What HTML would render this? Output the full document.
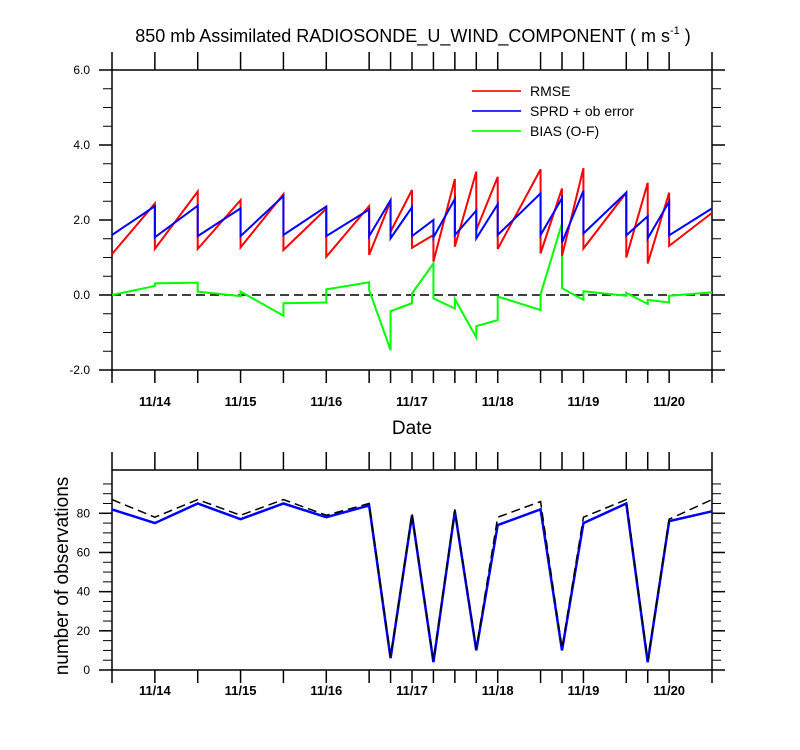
<!DOCTYPE html>
<html><head><meta charset="utf-8"><style>
body{margin:0;background:#fff;}
svg{display:block;font-family:"Liberation Sans",Arial,sans-serif;}
</style></head><body>
<svg id="chart" width="800" height="750" viewBox="0 0 800 750" xmlns="http://www.w3.org/2000/svg">
<rect width="800" height="750" fill="#fff"/>
<text x="413" y="42" font-size="18" text-anchor="middle">850 mb Assimilated RADIOSONDE_U_WIND_COMPONENT ( m s<tspan font-size="11" dy="-8">-1</tspan><tspan dy="8"> )</tspan></text>
<g id="gtop"></g>
<g id="gbot"></g>
<g>
<line x1="472" y1="91" x2="521" y2="91" stroke="#f33" stroke-width="2"/>
<text x="530" y="96" font-size="14">RMSE</text>
<line x1="472" y1="111" x2="521" y2="111" stroke="#33f" stroke-width="2"/>
<text x="530" y="116" font-size="14">SPRD + ob error</text>
<line x1="472" y1="131" x2="521" y2="131" stroke="#3f3" stroke-width="2"/>
<text x="530" y="136" font-size="14">BIAS (O-F)</text>
</g>
<text x="412" y="434" font-size="19" text-anchor="middle">Date</text>
<text transform="translate(68,576) rotate(-90)" font-size="19" text-anchor="middle">number of observations</text>
</svg>
<script>
const nodes=[0,0.5,1,1.5,2,2.5,3,3.25,3.5,3.75,4,4.25,4.5,5,5.25,5.5,6,6.25,6.5,7];
const rmseStart=[1.09,1.23,1.23,1.27,1.2,1.02,1.07,1.69,1.26,0.89,1.29,1.73,1.23,1.11,1.04,1.24,1.0,0.84,1.31];
const rmseEnd=[2.44,2.76,2.53,2.69,2.3,2.37,2.5,2.8,1.6,3.09,3.29,3.15,3.35,2.84,3.38,2.73,2.99,2.73,2.19];
const sprdStart=[1.6,1.54,1.57,1.57,1.6,1.57,1.57,1.51,1.57,1.54,1.6,1.51,1.6,1.6,1.4,1.64,1.59,1.51,1.59];
const sprdEnd=[2.37,2.38,2.31,2.64,2.36,2.28,2.53,2.34,2.0,2.56,2.25,2.42,2.71,2.58,2.78,2.73,2.1,2.49,2.31];
const biasStart=[0,0.31,0.09,0.09,-0.22,0.15,0.13,-0.43,0.04,-0.09,-0.11,-0.83,-0.04,0.02,0.18,0.1,0.06,-0.13,-0.02];
const biasEnd=[0.24,0.33,-0.03,-0.55,-0.2,0.34,-1.47,-0.22,0.84,-0.36,-1.13,-0.67,-0.4,1.91,-0.13,-0.02,-0.24,-0.2,0.07];
const obsUsed=[82,75,85,77,85,78,84,6,79,4,81,10,74,82,10,75,85,4,76,81];
const obsTotal=[87,78,87,79,87,79,85,7,80,5,82,11,78,86,11,78,87,5,77,87];
const dateLabels=["11/14","11/15","11/16","11/17","11/18","11/19","11/20"];
const dateTimes=[0.5,1.5,2.5,3.5,4.5,5.5,6.5];
const topTicks=[-2,0,2,4,6];
const botTicks=[0,20,40,60,80];

const NS="http://www.w3.org/2000/svg";
const L=112,R=712;
const xs=t=>L+t*(R-L)/7;
const yT=v=>295-v*37.5;
const yB=v=>670-v*(670-513.3)/80;
function mk(tag,attrs,parent){const e=document.createElementNS(NS,tag);for(const k in attrs)e.setAttribute(k,attrs[k]);parent.appendChild(e);return e;}
const gTop=document.getElementById('gtop'),gBot=document.getElementById('gbot');

function frame(g,y0,y1,ticks,yf,minorStep,lo,hi,fmt,lblY){
  const r=mk('rect',{x:L,y:y0,width:R-L,height:y1-y0,fill:'none',stroke:'#000','stroke-width':1.5},g);
  
  
  nodes.forEach(t=>{
    mk('line',{x1:xs(t),x2:xs(t),y1:y0-18,y2:y0,stroke:'#000','stroke-width':1.5},g);
    mk('line',{x1:xs(t),x2:xs(t),y1:y1,y2:y1+13,stroke:'#000','stroke-width':1.5},g);
  });
  for(let v=lo;v<=hi+1e-9;v+=minorStep){
    const yy=yf(v);
    mk('line',{x1:L-9,x2:L,y1:yy,y2:yy,stroke:'#000','stroke-width':1},g);
    mk('line',{x1:R,x2:R+9,y1:yy,y2:yy,stroke:'#000','stroke-width':1},g);
  }
  ticks.forEach(v=>{
    const yy=yf(v);
    mk('line',{x1:L-13,x2:L,y1:yy,y2:yy,stroke:'#000','stroke-width':1.5},g);
    mk('line',{x1:R,x2:R+13,y1:yy,y2:yy,stroke:'#000','stroke-width':1.5},g);
    const tx=mk('text',{x:L-22,y:yy+4,'font-size':12,'text-anchor':'end'},g);
    tx.textContent=fmt(v);
    
    
  });
  dateLabels.forEach((d,i)=>{
    const tx=mk('text',{x:xs(dateTimes[i]),y:lblY,'font-size':13,'font-weight':'bold','text-anchor':'middle'},g);
    tx.textContent=d;
    
    
  });
}
frame(gTop,70,370,topTicks,yT,0.5,-2,6,v=>v.toFixed(1),406);
frame(gBot,470,670,botTicks,yB,5,0,95,v=>String(v),695);

const zl=mk('line',{x1:L,x2:R,y1:yT(0),y2:yT(0),stroke:'#000','stroke-width':1.5,'stroke-dasharray':'9,5'},gTop);



function saw(st,en,color,name){
  let d='';
  for(let i=0;i<st.length;i++){
    d+=(i?'L':'M')+xs(nodes[i])+' '+yT(st[i])+'L'+xs(nodes[i+1])+' '+yT(en[i]);
  }
  const p=mk('path',{d:d,fill:'none',stroke:color,'stroke-width':2},gTop);
  
  
}
saw(biasStart,biasEnd,'#0f0','bias-line');
saw(rmseStart,rmseEnd,'#f00','rmse-line');
saw(sprdStart,sprdEnd,'#00f','sprd-line');

function pl(vals,color,w,dash,name){
  const d=vals.map((v,i)=>(i?'L':'M')+xs(nodes[i])+' '+yB(v)).join('');
  const p=mk('path',{d:d,fill:'none',stroke:color,'stroke-width':w},gBot);
  if(dash)p.setAttribute('stroke-dasharray',dash);
  
  
}
pl(obsUsed,'#00f',2.5,null,'obs-used-line');
pl(obsTotal,'#000',1.5,'9,5','obs-total-line');
</script>
</body></html>
